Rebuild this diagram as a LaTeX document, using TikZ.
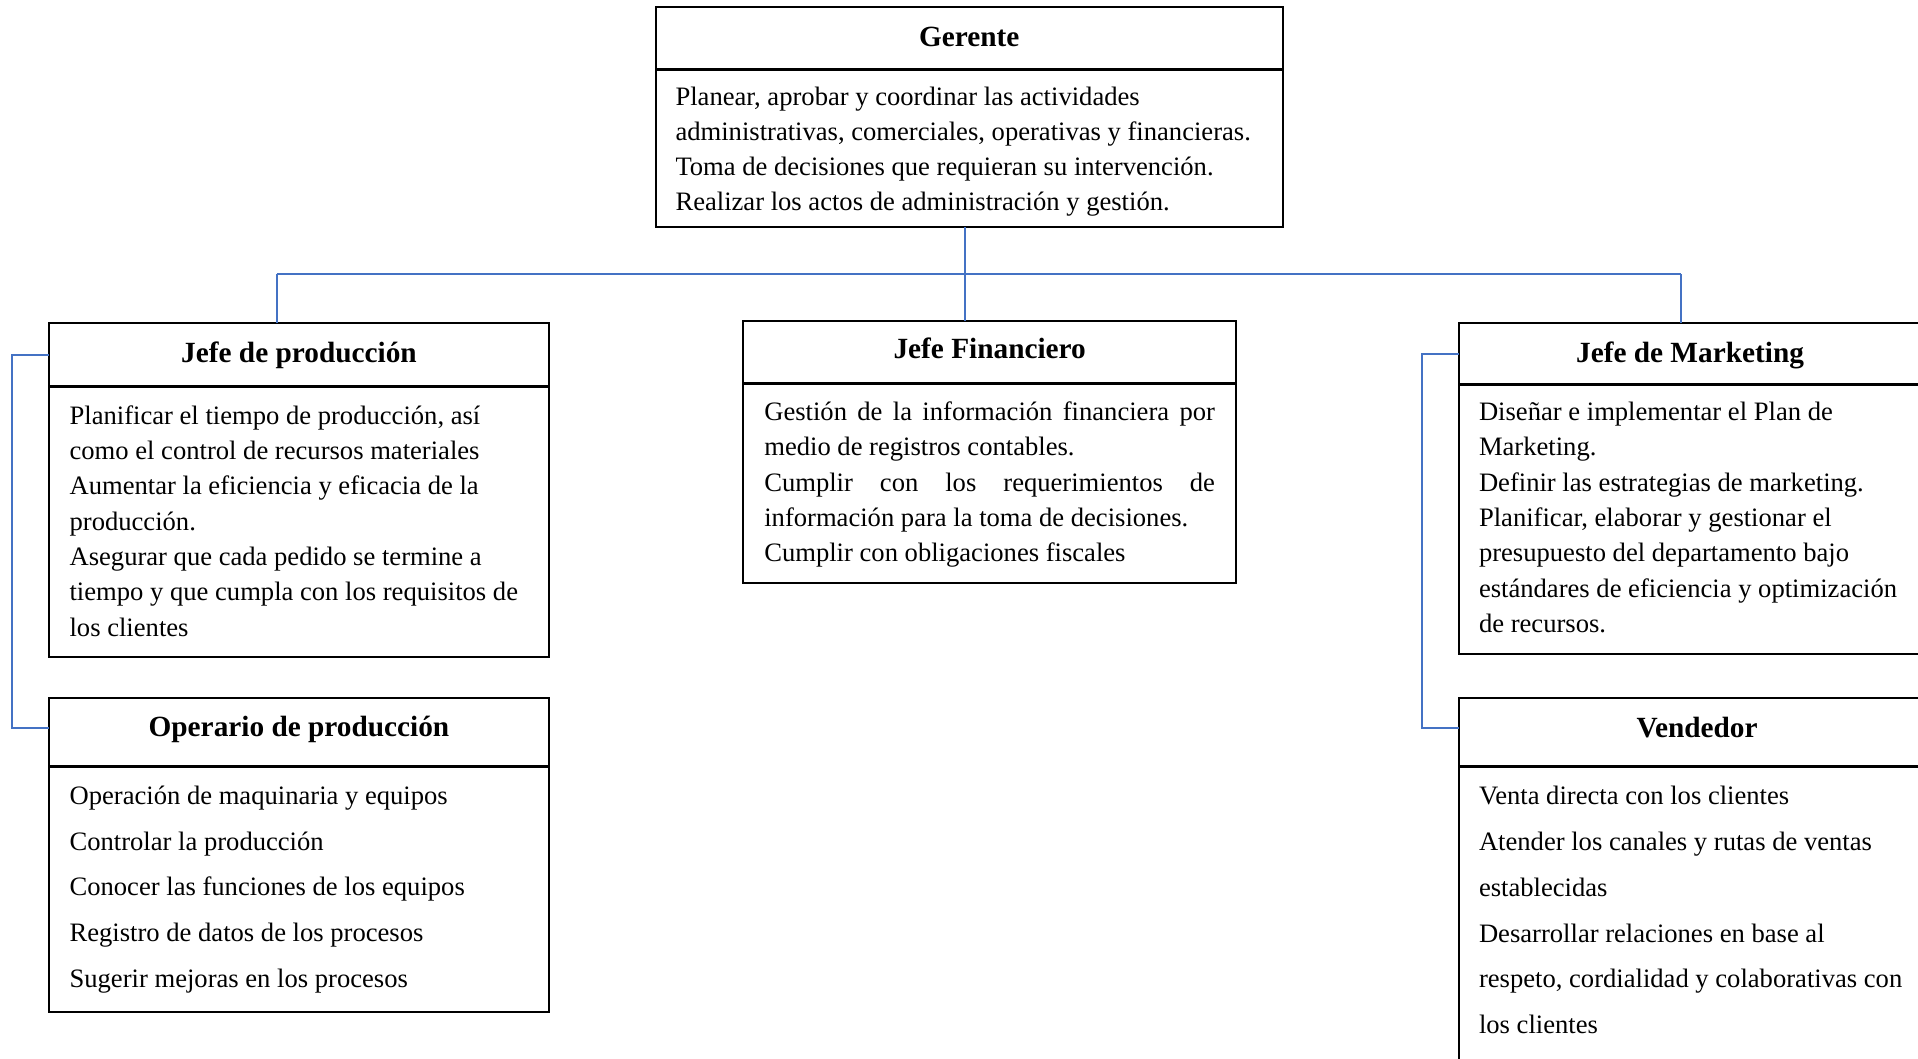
\documentclass[tikz,border=0pt]{standalone}
\usepackage{fontspec}
\setmainfont{Liberation Serif}[Ligatures=NoCommon]
\definecolor{connblue}{HTML}{4472C4}
\tikzset{
  boxline/.style={draw=black, line width=2pt, inner sep=0pt, outer sep=0pt},
  titlebox/.style={boxline, anchor=north west, text height=21pt, text depth=7pt,
                   font=\bfseries\fontsize{29.3}{35}\selectfont},
  bodybox/.style={boxline, anchor=north west},
  divider/.style={draw=black, line width=3pt},
  bodytext/.style={inner sep=0pt, outer sep=0pt, anchor=west},
  conn/.style={draw=connblue, line width=2pt},
}
\newcommand{\bodypar}[3]{\parbox{#1}{\fontsize{26.6}{#2}\selectfont\raggedright\setlength{\parindent}{0pt}#3}}
\begin{document}
\begin{tikzpicture}[x=1pt,y=-1pt]
\useasboundingbox (0,0) rectangle (1918,1058);
\clip (0,0) rectangle (1918,1058);
\fill[white] (0,0) rectangle (1918,1058);

% Gerente
\node[titlebox, minimum width=627pt, minimum height=61.7pt] (ger) at (655.8,7.3) {\raisebox{-1.3pt}{Gerente}};
\node[bodybox, minimum width=627pt, minimum height=158.3pt] (gerb) at (ger.south west) {};
\draw[divider] (ger.south west) -- (ger.south east);
\node[bodytext] (gert) at (675.5,152.1)
 {\bodypar{600pt}{35}{Planear, aprobar y coordinar las actividades\\
  administrativas, comerciales, operativas y financieras.\\
  Toma de decisiones que requieran su intervención.\\
  Realizar los actos de administración y gestión.}};

% Jefe de produccion
\node[titlebox, minimum width=500.1pt, minimum height=63.4pt] (jp) at (48.9,323.3) {Jefe de producción};
\node[bodybox, minimum width=500.1pt, minimum height=270pt] (jpb) at (jp.south west) {};
\draw[divider] (jp.south west) -- (jp.south east);
\node[bodytext] (jpt) at (69.6,520.9)
 {\bodypar{470pt}{35.3}{Planificar el tiempo de producción, así\\
  como el control de recursos materiales\\
  Aumentar la eficiencia y eficacia de la\\
  producción.\\
  Asegurar que cada pedido se termine a\\
  tiempo y que cumpla con los requisitos de\\
  los clientes}};

% Jefe Financiero
\node[titlebox, minimum width=492.7pt, minimum height=62.6pt] (jf) at (743.3,320.7) {\raisebox{0.8pt}{Jefe Financiero}};
\node[bodybox, minimum width=492.7pt, minimum height=200pt] (jfb) at (jf.south west) {};
\draw[divider] (jf.south west) -- (jf.south east);
\node[bodytext] (jft) at (764.3,484.6)
 {\bodypar{450.7pt}{35.3}{\makebox[450.7pt][s]{Gestión de la información financiera por}\\
  medio de registros contables.\\
  \makebox[450.7pt][s]{Cumplir con los requerimientos de}\\
  información para la toma de decisiones.\\
  Cumplir con obligaciones fiscales}};

% Jefe de Marketing
\node[titlebox, minimum width=462pt, minimum height=60.7pt] (jm) at (1459,323.3) {\raisebox{-2.2pt}{Jefe de Marketing}};
\node[bodybox, minimum width=462pt, minimum height=270pt] (jmb) at (jm.south west) {};
\draw[divider] (jm.south west) -- (jm.south east);
\node[bodytext] (jmt) at (1479,517.5)
 {\bodypar{440pt}{35.3}{Diseñar e implementar el Plan de\\
  Marketing.\\
  Definir las estrategias de marketing.\\
  Planificar, elaborar y gestionar el\\
  presupuesto del departamento bajo\\
  estándares de eficiencia y optimización\\
  de recursos.}};

% Operario de produccion
\node[titlebox, minimum width=500.1pt, minimum height=68.4pt] (op) at (48.9,698.3) {\raisebox{2.6pt}{Operario de producción}};
\node[bodybox, minimum width=500.1pt, minimum height=245.6pt] (opb) at (op.south west) {};
\draw[divider] (op.south west) -- (op.south east);
\node[bodytext] (opt) at (69.6,889.6)
 {\bodypar{470pt}{45.8}{Operación de maquinaria y equipos\\
  Controlar la producción\\
  Conocer las funciones de los equipos\\
  Registro de datos de los procesos\\
  Sugerir mejoras en los procesos}};

% Vendedor
\node[titlebox, minimum width=476pt, minimum height=68.4pt] (vd) at (1459,698.3) {\raisebox{2pt}{Vendedor}};
\node[bodybox, minimum width=476pt, minimum height=330pt] (vdb) at (vd.south west) {};
\draw[divider] (vd.south west) -- (vd.south east);
\node[bodytext] (vdt) at (1479,910.1)
 {\bodypar{440pt}{45.8}{Venta directa con los clientes\\
  Atender los canales y rutas de ventas\\
  establecidas\\
  Desarrollar relaciones en base al\\
  respeto, cordialidad y colaborativas con\\
  los clientes}};

% connectors
\coordinate (gbus) at (964.5,274);
\coordinate (lbus) at (276.8,274);
\coordinate (rbus) at (1681,274);
\draw[conn] (gbus |- gerb.south) -- (gbus);
\draw[conn] (lbus) -- (rbus);
\draw[conn] (lbus) -- (lbus |- jp.north);
\draw[conn] (gbus) -- (gbus |- jf.north);
\draw[conn] (rbus) -- (rbus |- jm.north);
\draw[conn] (jp.west) -- ++(-37.1,0) |- ([yshift=4.2pt]op.west);
\draw[conn] (jm.west) -- ++(-37,0) |- ([yshift=4.2pt]vd.west);
\end{tikzpicture}
\end{document}
